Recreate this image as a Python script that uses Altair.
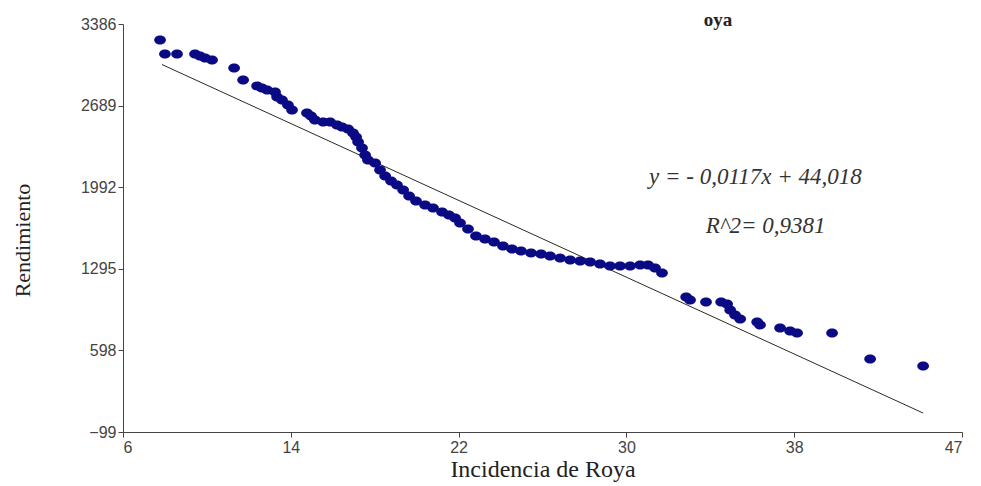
import altair as alt
import pandas as pd

incidencia = [7.81, 8.05, 8.64, 9.52, 9.76, 10.01, 10.35, 11.43, 11.87, 12.55,
              12.79, 13.04, 13.43, 13.53, 13.77, 14.06, 14.26, 14.99, 15.19, 15.38,
              15.78, 16.12, 16.46, 16.70, 17.00, 17.24, 17.39, 17.49, 17.68, 17.83,
              17.97, 18.32, 18.56, 18.81, 19.10, 19.39, 19.69, 19.98, 20.32, 20.76,
              21.15, 21.59, 21.93, 22.23, 22.47, 22.86, 23.25, 23.69, 24.13, 24.57,
              25.01, 25.45, 25.94, 26.43, 26.87, 27.36, 27.85, 28.34, 28.83, 29.31,
              29.80, 30.29, 30.78, 31.27, 31.66, 32.00, 32.34, 33.52, 33.71, 34.49,
              35.23, 35.52, 35.67, 35.91, 36.16, 36.99, 37.13, 38.11, 38.60, 38.94,
              40.65, 42.51, 45.10]
rendimiento = [3249, 3130, 3130, 3130, 3113, 3096, 3079, 3010, 2908, 2857,
               2839, 2822, 2805, 2763, 2737, 2694, 2652, 2626, 2600, 2566,
               2549, 2549, 2523, 2506, 2489, 2455, 2421, 2378, 2327, 2267,
               2224, 2199, 2139, 2088, 2045, 2011, 1968, 1917, 1874, 1840,
               1814, 1780, 1755, 1729, 1686, 1635, 1575, 1550, 1524, 1490,
               1464, 1447, 1430, 1421, 1404, 1387, 1370, 1362, 1353, 1336,
               1319, 1319, 1319, 1328, 1328, 1302, 1259, 1054, 1029, 1011,
               1011, 994, 943, 900, 866, 841, 815, 789, 764, 747,
               747, 525, 465]

line_x = [7.9, 45.1]
line_y = [3040, 63]

x_ticks = [6, 14.2, 22.4, 30.6, 38.8, 47]
y_ticks = [-99, 598, 1295, 1992, 2689, 3386]

ann_text = ["y = - 0,0117x + 44,018", "R^2= 0,9381"]
ann_x = [36.9, 37.4]
ann_y = [2079, 1661]

title_text = ["oya"]
title_x = [35.08]
title_y = [3420]

pts = pd.DataFrame({"x": incidencia, "y": rendimiento})
ln = pd.DataFrame({"x": line_x, "y": line_y})
ann = pd.DataFrame({"x": ann_x, "y": ann_y, "t": ann_text})
ttl = pd.DataFrame({"x": title_x, "y": title_y, "t": title_text})

xscale = alt.Scale(domain=[6, 47], nice=False, zero=False)
yscale = alt.Scale(domain=[-99, 3386], nice=False, zero=False)

xaxis = alt.Axis(values=x_ticks, labelExpr="floor(datum.value)", title="Incidencia de Roya",
                 grid=False, domainColor="#444", tickColor="#444", tickSize=5,
                 labelFont="Liberation Sans", labelFontSize=16, labelColor="#444",
                 titleFont="Liberation Serif", titleFontSize=24, titleFontWeight="normal",
                 titleColor="#222", titlePadding=2, labelPadding=2)
yaxis = alt.Axis(values=y_ticks, format="d", title="Rendimiento",
                 grid=False, domainColor="#444", tickColor="#444", tickSize=5,
                 labelFont="Liberation Sans", labelFontSize=16, labelColor="#444",
                 titleFont="Liberation Serif", titleFontSize=22, titleFontWeight="normal",
                 titleColor="#222", titlePadding=46, titleY=216, labelPadding=2)

ellipse = "M-1.3,0A1.3,1,0,1,0,1.3,0A1.3,1,0,1,0,-1.3,0Z"

points = alt.Chart(pts).mark_point(shape=ellipse, size=81, filled=True, color="#0a0a85",
                                   opacity=1, strokeWidth=0).encode(
    x=alt.X("x:Q", scale=xscale, axis=xaxis),
    y=alt.Y("y:Q", scale=yscale, axis=yaxis),
)

reg = alt.Chart(ln).mark_line(color="#2a2a22", strokeWidth=1).encode(
    x=alt.X("x:Q", scale=xscale),
    y=alt.Y("y:Q", scale=yscale),
)

text = alt.Chart(ann).mark_text(font="Liberation Serif", fontSize=23, fontStyle="italic",
                                color="#333", align="center", baseline="middle").encode(
    x=alt.X("x:Q", scale=xscale),
    y=alt.Y("y:Q", scale=yscale),
    text="t:N",
)

title = alt.Chart(ttl).mark_text(font="Liberation Serif", fontSize=19, fontWeight="bold",
                                 color="#222", align="center", baseline="middle").encode(
    x=alt.X("x:Q", scale=xscale),
    y=alt.Y("y:Q", scale=yscale),
    text="t:N",
)

chart = alt.layer(reg, points, text, title).properties(
    width=839, height=408,
    autosize=alt.AutoSizeParams(type="none"),
    padding={"left": 115, "top": 16, "right": 5, "bottom": 53},
).configure_view(stroke=None)

chart.save("out.html", embed_options={"renderer": "svg", "actions": False})
